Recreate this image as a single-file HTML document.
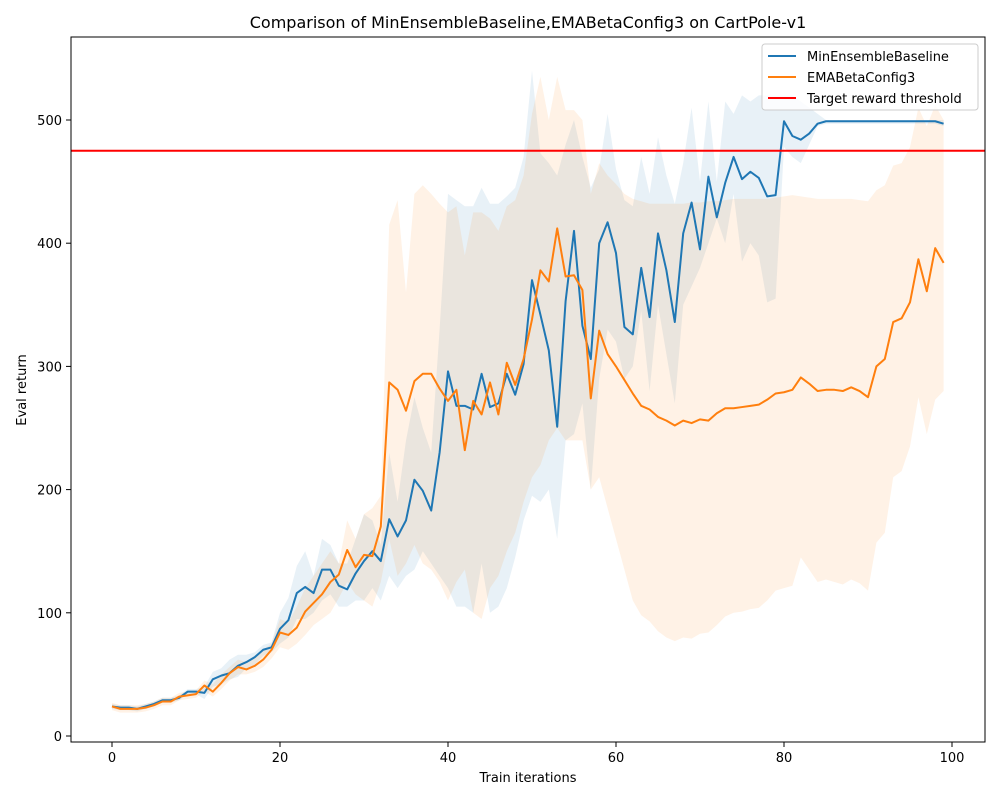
<!DOCTYPE html>
<html><head><meta charset="utf-8"><style>
body{margin:0;background:#fff;font-family:"Liberation Sans","DejaVu Sans",sans-serif}
svg text{font-family:"DejaVu Sans","Liberation Sans",sans-serif;fill:#000}
</style></head><body>
<svg id="chart" width="1000" height="800" xmlns="http://www.w3.org/2000/svg">
<rect width="1000" height="800" fill="#fff"/>
<text x="528" y="28" font-size="16" text-anchor="middle">Comparison of MinEnsembleBaseline,EMABetaConfig3 on CartPole-v1</text>
<g id="bands"></g><g id="lines"></g>
<rect x="71" y="37" width="914" height="705" fill="none" stroke="#000" stroke-width="1"/>
<g id="ticks"></g>
<text x="528" y="782" font-size="13" text-anchor="middle">Train iterations</text>
<text transform="translate(26,390) rotate(-90)" font-size="13" text-anchor="middle">Eval return</text>
<g>
<rect x="762" y="44" width="216" height="66" rx="3" fill="#fff" fill-opacity="0.8" stroke="#ccc"/>
<line x1="768" y1="56" x2="796" y2="56" stroke="#1f77b4" stroke-width="2"/>
<text x="807" y="61" font-size="13">MinEnsembleBaseline</text>
<line x1="768" y1="77" x2="796" y2="77" stroke="#ff7f0e" stroke-width="2"/>
<text x="807" y="82" font-size="13">EMABetaConfig3</text>
<line x1="768" y1="98" x2="796" y2="98" stroke="#ff0000" stroke-width="2"/>
<text x="807" y="103" font-size="13">Target reward threshold</text>
</g>
</svg>
<script>
const blueMean=[24,23,23,22,24,26,29,29,31,36,36,35,46,49,51,57,60,64,70,72,87,94,116,121,116,135,135,122,119,132,142,150,142,176,162,175,208,199,183,230,296,268,268,265,294,267,270,294,277,302,370,342,313,251,353,410,333,306,400,417,392,332,326,380,340,408,378,336,408,433,395,454,421,449,470,452,458,453,438,439,499,487,484,489,497,499,499,499,499,499,499,499,499,499,499,499,499,499,499,497];
const blueUpper=[26,25,25,24,26,28,31,31,33,38,38,40,52,55,62,66,66,68,74,76,100,112,138,150,130,160,155,140,140,160,180,175,155,230,190,240,275,250,230,330,440,435,430,430,445,432,432,438,445,470,540,473,465,455,480,500,470,445,460,505,460,435,430,470,440,486,455,432,465,510,450,515,450,515,505,520,515,520,520,520,520,520,515,510,505,500,500,500,500,500,500,500,500,500,500,500,500,500,500,500];
const blueLower=[22,21,21,20,22,24,27,27,29,34,34,30,40,42,46,48,55,58,65,68,75,80,95,95,100,110,115,105,105,110,110,120,110,130,120,130,135,150,140,130,120,105,105,100,140,100,105,120,145,175,195,190,200,160,240,245,270,200,290,330,320,290,300,345,280,350,310,270,350,365,380,400,420,400,440,385,400,390,352,355,478,470,465,480,495,497,497,497,497,497,497,497,497,497,497,497,497,497,497,495];
const orangeMean=[24,22,22,22,23,25,28,28,32,33,34,41,36,43,51,56,54,57,62,70,84,82,88,101,108,115,125,131,151,137,147,146,170,287,281,264,288,294,294,282,272,281,232,272,261,287,261,303,285,306,338,378,369,412,373,374,362,274,329,310,300,289,278,268,265,259,256,252,256,254,257,256,262,266,266,267,268,269,273,278,279,281,291,286,280,281,281,280,283,280,275,300,306,336,339,352,387,361,396,384];
const orangeUpper=[27,25,25,25,26,28,31,31,35,36,37,45,42,50,56,62,60,63,70,75,95,92,105,120,130,140,150,140,175,160,180,185,195,415,435,360,440,447,440,432,425,430,390,425,425,420,410,430,435,455,505,535,500,535,508,508,500,440,465,455,448,440,436,434,432,432,432,432,432,433,433,434,434,435,436,436,436,436,436,437,438,439,438,437,436,436,436,436,436,435,434,443,447,463,465,478,510,495,512,500];
const orangeLower=[21,19,19,19,20,22,25,25,29,30,31,36,32,38,45,50,50,52,56,63,72,70,75,82,90,95,100,112,125,115,110,105,125,160,130,140,155,140,135,125,110,125,135,100,95,120,130,150,165,190,210,220,240,250,240,240,240,200,210,185,160,135,110,98,93,85,80,77,80,79,83,84,90,97,100,101,103,104,110,118,120,122,145,135,125,127,125,123,127,124,118,157,165,210,215,235,275,245,273,280];
const threshold=475;
const xTicks=[0,20,40,60,80,100];
const yTicks=[0,100,200,300,400,500];
const X=v=>112+v*8.4, Y=v=>736-v*1.232;
const NS="http://www.w3.org/2000/svg";
function mk(tag,attrs,parent){const e=document.createElementNS(NS,tag);for(const k in attrs)e.setAttribute(k,attrs[k]);parent.appendChild(e);return e;}
const bands=document.getElementById('bands'),lines=document.getElementById('lines'),ticks=document.getElementById('ticks');
function band(up,lo,color,name){
  let d='M'+up.map((v,i)=>X(i)+','+Y(v)).join('L')+'L'+lo.map((v,i)=>[i,v]).reverse().map(p=>X(p[0])+','+Y(p[1])).join('L')+'Z';
  const p=mk('path',{d:d,fill:color,'fill-opacity':0.1},bands);
  
  
}
band(blueUpper,blueLower,'#1f77b4','band-minensemble');
band(orangeUpper,orangeLower,'#ff7f0e','band-emabeta');
function line(arr,color,name){
  const p=mk('polyline',{points:arr.map((v,i)=>X(i)+','+Y(v)).join(' '),fill:'none',stroke:color,'stroke-width':2,'stroke-linejoin':'round'},lines);
  
  
}
line(blueMean,'#1f77b4','line-minensemble');
line(orangeMean,'#ff7f0e','line-emabeta');
const th=mk('line',{x1:71,x2:985,y1:Y(threshold),y2:Y(threshold),stroke:'#ff0000','stroke-width':2},lines);


xTicks.forEach(t=>{
  mk('line',{x1:X(t),x2:X(t),y1:742,y2:747,stroke:'#000'},ticks);
  const tx=mk('text',{x:X(t),y:762,'font-size':13,'text-anchor':'middle'},ticks);tx.textContent=t;
  
  
});
yTicks.forEach(t=>{
  mk('line',{x1:66,x2:71,y1:Y(t),y2:Y(t),stroke:'#000'},ticks);
  const tx=mk('text',{x:62,y:Y(t)+5,'font-size':13,'text-anchor':'end'},ticks);tx.textContent=t;
  
  
});
</script>
</body></html>
